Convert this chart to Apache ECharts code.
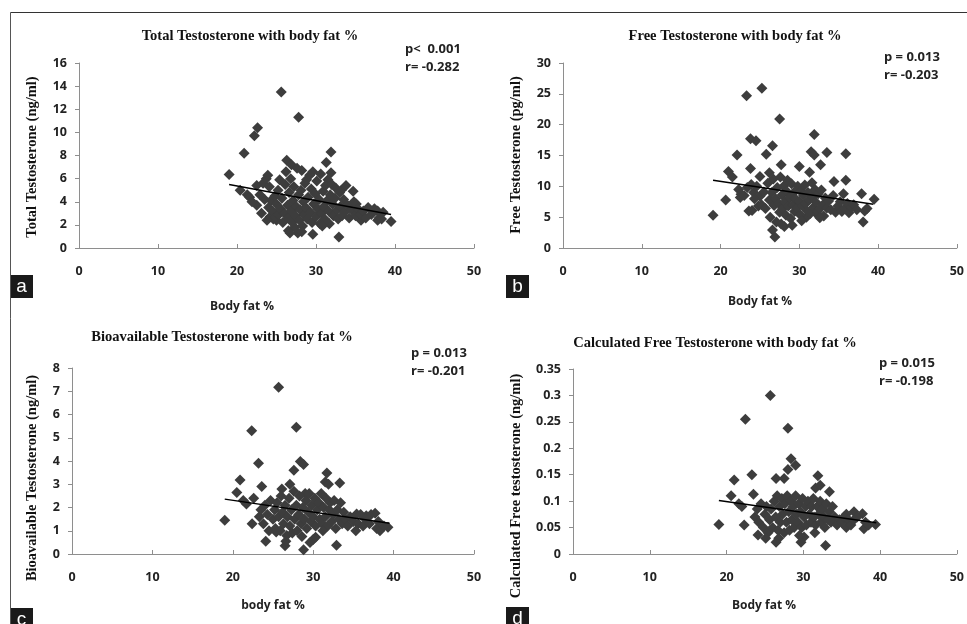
<!DOCTYPE html>
<html>
<head>
<meta charset="utf-8">
<script src="https://cdn.jsdelivr.net/npm/echarts@6/dist/echarts.min.js"></script>
<style>
html,body{margin:0;padding:0;background:#fff;}
#chart{width:967px;height:624px;}
</style>
</head>
<body>
<div id="chart"></div>
<script>
// ---- Data (body fat %, hormone value) ----
const totalT = [
[19.0,6.35],[20.4,5.0],[20.9,8.2],[21.3,4.6],[21.6,4.4],[22.2,9.7],[22.6,10.4],[22.5,5.4],[22.5,3.7],[23.1,3.0],
[23.3,5.6],[23.7,6.0],[23.9,6.3],[24.2,2.7],[25.0,2.4],[25.6,13.5],[27.8,11.3],[31.9,8.3],[31.3,7.4],[26.3,7.6],
[26.9,7.2],[28.2,6.7],[29.6,6.6],[28.8,5.9],[31.9,6.5],[31.5,5.9],[33.2,5.0],[34.7,4.9],[35.1,3.8],[36.6,3.5],
[37.8,3.2],[38.5,3.1],[39.5,2.3],[37.8,2.4],[35.7,2.4],[29.6,1.2],[32.9,0.95],[26.5,1.5],[27.3,1.8],[27.7,1.3],
[24.0,3.5],[24.3,4.1],[24.5,3.2],[24.6,2.5],[24.8,4.5],[25.0,3.8],[25.2,5.0],[25.3,2.9],[25.5,3.4],[25.7,4.3],
[25.8,2.2],[26.0,3.0],[26.1,5.5],[26.2,6.6],[26.4,3.7],[26.5,2.6],[26.6,4.8],[26.8,6.0],[26.9,3.2],[27.0,2.2],
[27.1,4.1],[27.2,5.3],[27.4,2.8],[27.5,3.6],[27.6,6.9],[27.8,4.6],[27.9,2.4],[28.0,3.3],[28.1,5.0],[28.3,1.9],
[28.4,4.0],[28.5,2.9],[28.6,5.6],[28.7,3.5],[28.9,2.5],[29.0,4.4],[29.2,6.3],[29.3,3.1],[29.4,5.1],[29.5,2.2],
[29.7,3.8],[29.9,4.7],[30.0,2.7],[30.1,5.8],[30.2,3.4],[30.4,4.2],[30.5,2.1],[30.6,6.4],[30.7,3.0],[30.9,4.9],
[31.0,3.6],[31.1,2.5],[31.2,5.4],[31.4,4.1],[31.6,3.2],[31.7,2.1],[31.8,4.6],[32.0,5.5],[32.1,3.8],[32.2,2.8],
[32.4,4.3],[32.5,5.2],[32.7,3.3],[32.8,2.5],[33.0,4.8],[33.1,3.6],[33.3,2.8],[33.5,4.2],[33.6,3.1],[33.8,5.4],
[34.0,3.7],[34.2,2.6],[34.5,3.3],[34.8,4.0],[35.0,2.8],[35.3,3.4],[35.6,2.9],[36.0,3.2],[36.3,2.6],[37.0,2.9],
[37.4,3.4],[38.0,2.6],[38.3,2.5],[23.5,4.2],[23.8,2.4],[24.1,5.3],[22.9,4.6],[21.9,4.0],[26.7,1.3],[28.2,1.4],
[30.8,1.9],[25.4,5.9]
];
const freeT = [
[19.05,5.3],[20.65,7.8],[21.0,12.4],[21.5,11.5],[22.1,15.1],[22.3,9.5],[22.6,8.7],[23.3,24.7],[25.25,25.9],[23.8,17.7],
[24.5,17.4],[27.5,20.9],[31.9,18.4],[26.6,16.6],[25.8,15.2],[23.8,12.9],[30.0,13.2],[31.5,15.6],[31.9,15.1],[33.5,15.5],
[35.9,15.3],[35.9,11.0],[34.4,10.8],[37.9,8.8],[39.5,7.9],[38.1,4.2],[26.6,2.9],[26.9,1.8],[28.1,3.5],[23.6,6.0],
[24.0,6.1],[24.8,6.8],[30.9,5.0],[32.3,5.4],[27.7,13.5],[26.2,12.2],[23.9,10.3],[24.2,9.0],[31.3,12.3],[32.7,13.5],
[22.5,8.2],[23.0,8.5],[23.4,9.8],[24.6,10.0],[25.0,8.4],[25.2,7.0],[25.5,9.1],[25.7,6.4],[26.0,10.5],[26.2,7.8],
[26.3,5.0],[26.5,9.0],[26.7,11.2],[26.8,6.9],[27.0,8.0],[27.1,4.2],[27.2,9.8],[27.4,7.2],[27.5,5.8],[27.6,11.5],
[27.8,8.6],[27.9,6.4],[28.0,10.0],[28.2,7.5],[28.3,5.3],[28.4,9.2],[28.5,11.0],[28.6,6.8],[28.8,8.2],[28.9,4.8],
[29.0,10.4],[29.2,7.0],[29.3,9.0],[29.4,5.9],[29.5,8.0],[29.7,6.5],[29.8,10.0],[30.0,7.6],[30.1,5.4],[30.2,9.3],
[30.4,6.8],[30.5,8.6],[30.7,10.2],[30.8,7.2],[31.0,6.0],[31.1,9.0],[31.2,7.8],[31.4,5.6],[31.6,10.6],[31.7,8.3],
[31.8,6.6],[32.0,9.5],[32.1,7.4],[32.3,5.9],[32.4,8.8],[32.6,6.4],[32.8,9.4],[33.0,7.0],[33.1,5.2],[33.3,8.1],
[33.5,6.5],[33.7,7.6],[34.0,6.2],[34.3,8.5],[34.6,5.8],[34.9,6.8],[35.2,7.5],[35.4,5.9],[35.6,8.8],[35.8,6.4],
[36.1,7.2],[36.3,5.7],[36.6,6.6],[36.9,7.0],[37.3,6.2],[38.3,6.0],[38.6,6.4],[29.1,3.7],[27.7,3.9],[30.3,4.4],
[32.6,4.9],[25.0,11.6],[24.3,8.0]
];
const bioT = [
[19.0,1.45],[20.5,2.65],[20.9,3.18],[21.3,2.3],[21.7,2.15],[22.35,5.3],[22.4,1.3],[23.2,3.9],[23.6,2.9],[25.7,7.17],
[27.9,5.45],[28.4,3.98],[28.8,3.85],[27.6,3.6],[31.7,3.48],[33.3,3.05],[31.5,3.1],[31.9,3.0],[24.1,0.55],[26.5,0.35],
[26.6,0.55],[28.8,0.18],[30.0,0.62],[30.3,0.72],[32.9,0.38],[39.3,1.15],[37.9,1.1],[37.7,1.75],[35.4,1.72],[36.6,1.65],
[37.2,1.7],[22.6,2.4],[27.1,3.0],[26.1,2.8],[29.0,2.6],
[23.3,1.6],[23.5,1.9],[23.8,1.3],[24.0,2.1],[24.3,1.7],[24.5,1.0],[24.7,2.3],[25.0,1.5],[25.2,1.9],[25.3,1.1],
[25.5,2.2],[25.7,1.6],[25.9,1.0],[26.0,2.5],[26.2,1.8],[26.3,1.3],[26.5,2.1],[26.7,0.8],[26.8,1.6],[27.0,2.4],
[27.1,1.2],[27.3,1.9],[27.4,0.9],[27.6,2.7],[27.7,1.5],[27.9,2.1],[28.0,1.0],[28.2,1.7],[28.3,2.5],[28.5,1.3],
[28.6,0.75],[28.7,2.0],[28.9,1.5],[29.1,2.3],[29.2,1.1],[29.4,1.8],[29.5,2.6],[29.7,1.4],[29.8,2.1],[30.0,1.6],
[30.2,2.4],[30.3,1.2],[30.5,1.9],[30.7,2.2],[30.8,1.5],[31.0,2.6],[31.1,1.3],[31.3,2.0],[31.5,1.6],[31.6,2.4],
[31.8,1.2],[32.0,1.9],[32.1,2.2],[32.3,1.4],[32.5,1.7],[32.6,2.3],[32.8,1.1],[33.0,1.9],[33.2,1.5],[33.4,2.2],
[33.6,1.3],[33.8,1.8],[34.0,1.5],[34.3,1.2],[34.6,1.6],[35.0,1.4],[35.3,1.0],[35.6,1.3],[35.9,1.7],[36.2,1.2],
[36.5,1.5],[37.0,1.3],[38.1,1.4],[38.3,1.0],[38.8,1.2],[29.6,0.5],[31.2,1.0],[25.4,0.95]
];
const calcFreeT = [
[19.0,0.056],[20.6,0.11],[21.0,0.14],[21.6,0.095],[22.0,0.09],[22.45,0.255],[22.3,0.055],[23.3,0.15],[23.5,0.113],[25.7,0.30],
[28.0,0.238],[28.4,0.18],[29.0,0.168],[28.0,0.16],[26.45,0.143],[27.5,0.143],[31.9,0.148],[33.4,0.118],[24.1,0.036],[26.45,0.022],
[26.8,0.03],[30.1,0.032],[29.7,0.022],[32.9,0.016],[39.4,0.056],[37.9,0.048],[37.7,0.076],[36.6,0.08],[35.6,0.075],[31.6,0.125],
[32.2,0.13],
[23.7,0.07],[24.0,0.085],[24.2,0.06],[24.5,0.095],[24.8,0.05],[25.0,0.075],[25.2,0.09],[25.4,0.04],[25.6,0.065],[25.8,0.085],
[26.0,0.05],[26.2,0.1],[26.4,0.07],[26.6,0.11],[26.7,0.045],[26.9,0.09],[27.0,0.06],[27.2,0.105],[27.3,0.075],[27.5,0.04],
[27.6,0.095],[27.8,0.06],[27.9,0.11],[28.1,0.08],[28.2,0.045],[28.4,0.1],[28.5,0.065],[28.7,0.09],[28.8,0.05],[29.0,0.11],
[29.1,0.075],[29.3,0.06],[29.4,0.095],[29.6,0.08],[29.8,0.05],[29.9,0.105],[30.1,0.07],[30.3,0.09],[30.4,0.055],[30.6,0.1],
[30.8,0.075],[31.0,0.06],[31.1,0.09],[31.3,0.105],[31.4,0.07],[31.6,0.055],[31.8,0.09],[32.0,0.075],[32.2,0.1],[32.3,0.06],
[32.5,0.085],[32.7,0.07],[32.8,0.05],[33.0,0.095],[33.2,0.065],[33.4,0.08],[33.6,0.06],[33.8,0.09],[34.1,0.07],[34.4,0.055],
[34.7,0.065],[35.0,0.06],[35.3,0.07],[35.6,0.05],[35.9,0.065],[36.2,0.055],[36.6,0.065],[37.0,0.07],[38.1,0.06],[38.5,0.055],
[29.5,0.035],[31.5,0.04],[25.1,0.03]
];
// trend line end points
const trendTotal = [[19.0,5.5],[39.5,2.9]];
const trendFree = [[19.05,11.0],[39.4,7.1]];
const trendBio = [[19.0,2.36],[39.5,1.32]];
const trendCalc = [[19.0,0.101],[39.5,0.059]];

const titles = ['Total Testosterone with body fat %','Free Testosterone with body fat %','Bioavailable Testosterone with body fat %','Calculated Free Testosterone with body fat %'];
const yNames = ['Total Testosterone (ng/ml)','Free Testosterone (pg/ml)','Bioavailable Testosterone (ng/ml)','Calculated Free testosterone (ng/ml)'];
const xNames = ['Body fat %','Body fat %','body fat %','Body fat %'];
const pTexts = ['p<  0.001','p = 0.013','p = 0.013','p = 0.015'];
const rTexts = ['r= -0.282','r= -0.203','r= -0.201','r= -0.198'];
const panelLetters = ['a','b','c','d'];
const yMax = [16,30,8,0.35];
const yStep = [2,5,1,0.05];

// ---- layout ----
const grids = [
  {left:79, top:63, width:395, height:185},
  {left:563, top:63, width:395, height:185},
  {left:72, top:368, width:402, height:186},
  {left:573, top:369, width:385, height:185}
];
const titlePos = [[250,36],[735,36],[222,337],[715,343]];
const yNamePos = [[32,157],[516,155],[32,478],[516,486]];
const xNamePos = [[242,307],[760,302],[273,606],[764,606]];
const pPos = [[405,58],[884,66],[411,362],[879,372]];
const letterPos = [[10,275],[506,275],[10,608],[506,607]];

const serif = '"Liberation Serif","Times New Roman",serif';
const sans = '"Open Sans","Noto Sans",sans-serif';
const gray = '#8e8e8e';
const dots = [totalT, freeT, bioT, calcFreeT];
const trends = [trendTotal, trendFree, trendBio, trendCalc];

const xAxes = [], yAxes = [], series = [], graphic = [];
for (let i = 0; i < 4; i++) {
  xAxes.push({
    gridIndex:i, type:'value', min:0, max:50, interval:10,
    axisLine:{lineStyle:{color:gray,width:1}},
    axisTick:{show:true,inside:true,length:4,lineStyle:{color:gray}},
    splitLine:{show:false},
    axisLabel:{margin:17,color:'#222',fontFamily:sans,fontWeight:'bold',fontSize:12.5}
  });
  yAxes.push({
    gridIndex:i, type:'value', min:0, max:yMax[i], interval:yStep[i],
    axisLine:{show:true,lineStyle:{color:gray,width:1}},
    axisTick:{show:true,length:4,lineStyle:{color:gray}},
    splitLine:{show:false},
    axisLabel:{margin:12,color:'#222',fontFamily:sans,fontWeight:'bold',fontSize:12.5,
      formatter: v => String(parseFloat(v.toFixed(2)))}
  });
  series.push({
    type:'scatter', xAxisIndex:i, yAxisIndex:i, data:dots[i],
    symbol:'diamond', symbolSize:11, itemStyle:{color:'#3d3d3d',opacity:1}, silent:true
  });
  series.push({
    type:'line', xAxisIndex:i, yAxisIndex:i, data:trends[i], showSymbol:false,
    lineStyle:{color:'#000',width:1.5}, silent:true, z:5
  });
  graphic.push({type:'text', x:titlePos[i][0], y:titlePos[i][1],
    style:{text:titles[i], font:'bold 14.5px '+serif, fill:'#111', textAlign:'center', textVerticalAlign:'middle'}});
  graphic.push({type:'text', x:yNamePos[i][0], y:yNamePos[i][1], rotation:Math.PI/2,
    style:{text:yNames[i], font:'bold 14.5px '+serif, fill:'#111', textAlign:'center', textVerticalAlign:'middle'}});
  graphic.push({type:'text', x:xNamePos[i][0], y:xNamePos[i][1],
    style:{text:xNames[i], font:'bold 12px '+sans, fill:'#222', textAlign:'center', textVerticalAlign:'middle'}});
  graphic.push({type:'text', x:pPos[i][0], y:pPos[i][1],
    style:{text:pTexts[i]+'\n'+rTexts[i], font:'bold 13px '+sans, fill:'#222', textAlign:'left', textVerticalAlign:'middle', lineHeight:18}});
  graphic.push({type:'rect', shape:{x:letterPos[i][0], y:letterPos[i][1], width:23, height:23},
    style:{fill:'#1a1a1a'}});
  graphic.push({type:'text', x:letterPos[i][0]+11.5, y:letterPos[i][1]+12,
    style:{text:panelLetters[i], font:'19px "Liberation Sans",Arial,sans-serif', fill:'#fff', textAlign:'center', textVerticalAlign:'middle'}});
}
// figure frame lines
graphic.push({type:'line', shape:{x1:10.5,y1:12.5,x2:967,y2:12.5}, style:{stroke:'#333',lineWidth:1.2}});
graphic.push({type:'line', shape:{x1:10.5,y1:12.5,x2:10.5,y2:624}, style:{stroke:'#555',lineWidth:1}});

const chart = echarts.init(document.getElementById('chart'), null, {renderer:'canvas'});
chart.setOption({
  backgroundColor:'#fff',
  animation:false,
  grid: grids.map(g => Object.assign({containLabel:false}, g)),
  xAxis: xAxes,
  yAxis: yAxes,
  series: series,
  graphic: graphic
});
</script>
</body>
</html>
